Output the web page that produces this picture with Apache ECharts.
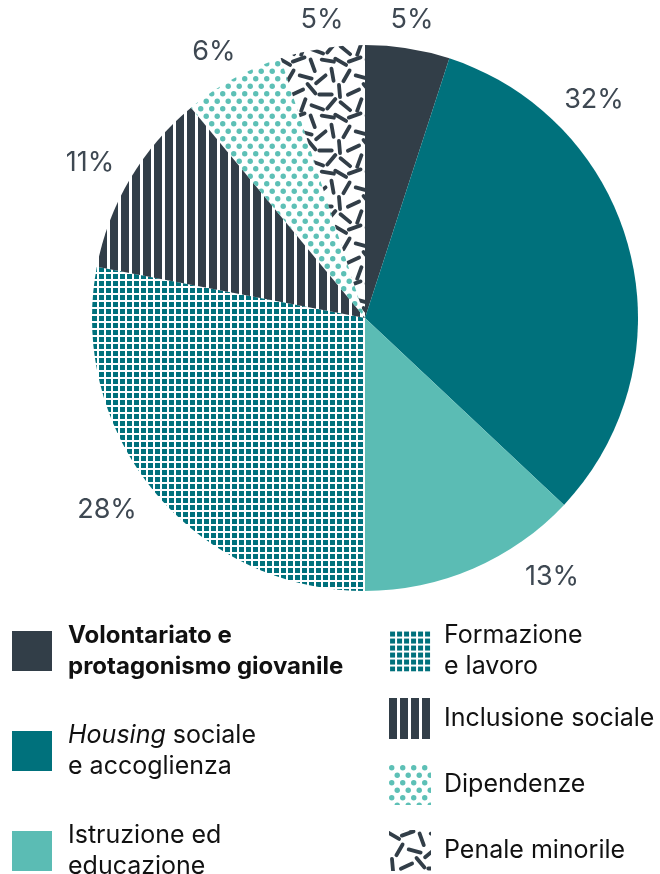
<!DOCTYPE html>
<html>
<head>
<meta charset="utf-8">
<script src="https://cdn.jsdelivr.net/npm/echarts@6/dist/echarts.min.js"></script>
<style>
  html, body { margin: 0; padding: 0; background: #fff; }
  #chart { width: 660px; height: 874px; }
</style>
</head>
<body>
<div id="chart"></div>
<script>
// DATA
const categories = [
    'Volontariato e protagonismo giovanile',
    'Housing sociale e accoglienza',
    'Istruzione ed educazione',
    'Formazione e lavoro',
    'Inclusione sociale',
    'Dipendenze',
    'Penale minorile'
];
const values = [5, 32, 13, 28, 11, 6, 5];

// legend text, as written in the original
const legendText = [
    '{b|Volontariato e}\n{b|protagonismo giovanile}',
    '{i|Housing} sociale\ne accoglienza',
    'Istruzione ed\neducazione',
    'Formazione\ne lavoro',
    'Inclusione sociale',
    'Dipendenze',
    'Penale minorile'
];

// where the percentage labels sit (label centres, px)
const labelPos = [[412, 20], [594, 100], [552, 577], [107, 510], [90, 163], [214, 52], [322, 20]];

// COLOURS
const DARK = '#323e48';
const TEAL = '#00717c';
const LIGHT = '#5bbcb4';
const DOTS = '#5dc0b6';
const FONT = 'Inter, "Noto Sans", sans-serif';

// PATTERNS
function makeCanvas(w, h) {
    const c = document.createElement('canvas');
    c.width = w;
    c.height = h;
    return c;
}

function gridPattern() {
    const c = makeCanvas(7, 7);
    const ctx = c.getContext('2d');
    ctx.fillStyle = TEAL;
    ctx.fillRect(1, 1, 5, 5);
    return c;
}

function stripePattern() {
    const c = makeCanvas(11, 11);
    const ctx = c.getContext('2d');
    ctx.fillStyle = DARK;
    ctx.fillRect(0, 0, 8, 11);
    return c;
}

function dotPattern() {
    const c = makeCanvas(11, 15);
    const ctx = c.getContext('2d');
    ctx.fillStyle = DOTS;
    [[2.75, 3.75], [8.25, 11.25]].forEach(([x, y]) => {
        ctx.beginPath();
        ctx.arc(x, y, 2.7, 0, Math.PI * 2);
        ctx.fill();
    });
    return c;
}

// dash tile: x, y (on a 48 grid) and angle
const dashes = [
    [4, 5, 30], [16, 3, -20], [28, 8, 70], [41, 4, 10],
    [9, 17, -60], [22, 18, 15], [35, 20, -40], [45, 16, 80],
    [3, 30, 85], [15, 31, -25], [27, 28, 50], [39, 33, 0],
    [8, 43, 40], [20, 42, -70], [32, 44, 20], [44, 41, -50]
];

function dashPattern() {
    const size = 56;
    const k = size / 48;
    const c = makeCanvas(size, size);
    const ctx = c.getContext('2d');
    ctx.strokeStyle = DARK;
    ctx.lineWidth = 3.8;
    ctx.lineCap = 'round';
    dashes.forEach(([x, y, a]) => {
        const r = a * Math.PI / 180;
        const dx = Math.cos(r) * 6.2;
        const dy = Math.sin(r) * 6.2;
        for (let ox = -size; ox <= size; ox += size) {
            for (let oy = -size; oy <= size; oy += size) {
                ctx.beginPath();
                ctx.moveTo(x * k + ox - dx, y * k + oy - dy);
                ctx.lineTo(x * k + ox + dx, y * k + oy + dy);
                ctx.stroke();
            }
        }
    });
    return c;
}

const fills = [
    DARK,
    TEAL,
    LIGHT,
    { image: gridPattern(), repeat: 'repeat' },
    { image: stripePattern(), repeat: 'repeat' },
    { image: dotPattern(), repeat: 'repeat' },
    { image: dashPattern(), repeat: 'repeat' }
];

const chart = echarts.init(document.getElementById('chart'), null, { renderer: 'canvas' });

const legendTextStyle = {
    fontFamily: FONT,
    fontSize: 25,
    lineHeight: 31,
    color: '#111',
    rich: {
        b: { fontFamily: FONT, fontSize: 24, lineHeight: 31, fontWeight: 'bold', color: '#111' },
        i: { fontFamily: FONT, fontSize: 25, lineHeight: 31, fontStyle: 'italic', color: '#111' }
    }
};

function legendFormatter(name) {
    return legendText[categories.indexOf(name)];
}

const option = {
    animation: false,
    legend: [
        {
            orient: 'vertical',
            left: 12,
            top: 620,
            height: 300,
            padding: 0,
            itemWidth: 40,
            itemHeight: 40,
            itemGap: 38,
            icon: 'rect',
            data: categories.slice(0, 3),
            formatter: legendFormatter,
            textStyle: Object.assign({ padding: [0, 0, 0, 11] }, legendTextStyle)
        },
        {
            orient: 'vertical',
            left: 389,
            top: 620,
            height: 300,
            padding: 0,
            itemWidth: 42,
            itemHeight: 41,
            icon: 'rect',
            data: categories.slice(3, 4),
            formatter: legendFormatter,
            textStyle: Object.assign({ padding: [0, 0, 0, 8] }, legendTextStyle)
        },
        {
            orient: 'vertical',
            left: 389,
            top: 698,
            height: 300,
            padding: 0,
            itemWidth: 42,
            itemHeight: 41,
            itemGap: 25,
            icon: 'rect',
            data: categories.slice(4),
            formatter: legendFormatter,
            textStyle: Object.assign({ padding: [0, 0, 0, 8] }, legendTextStyle)
        }
    ],
    series: [
        {
            type: 'pie',
            center: [365, 318],
            radius: [0, 273],
            startAngle: 90,
            clockwise: true,
            avoidLabelOverlap: false,
            silent: true,
            itemStyle: { borderWidth: 0 },
            label: {
                show: true,
                position: 'outside',
                formatter: '{c}%',
                fontFamily: FONT,
                fontSize: 27,
                color: '#3e4852'
            },
            labelLine: { show: false },
            labelLayout: function (params) {
                const p = labelPos[params.dataIndex];
                return { x: p[0], y: p[1], align: 'center', verticalAlign: 'middle' };
            },
            data: categories.map((name, i) => ({
                name: name,
                value: values[i],
                itemStyle: { color: fills[i] }
            }))
        }
    ]
};

chart.setOption(option);
</script>
</body>
</html>
